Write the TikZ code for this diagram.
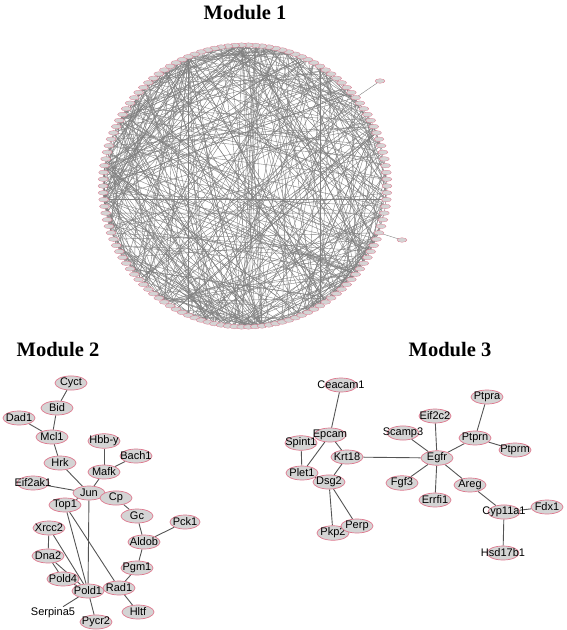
\documentclass[tikz,border=0pt]{standalone}
\usepackage{fontspec}
\setmainfont{Liberation Sans}
\newfontfamily\titlefont{Liberation Serif}
\usetikzlibrary{shapes.geometric,backgrounds}
\definecolor{pinkc}{RGB}{222,120,142}
\definecolor{grayc}{RGB}{212,212,212}
\definecolor{edgec}{RGB}{85,85,85}
\definecolor{medgec}{RGB}{128,128,128}
\newcommand{\gn}[1]{\makebox[0pt]{#1}}
\tikzset{
  gene/.style={ellipse, draw=pinkc, fill=grayc, line width=0.7pt, minimum width=32pt, minimum height=14pt, inner sep=0pt, font=\fontsize{11}{12}\selectfont},
  plain/.style={inner sep=1pt, font=\fontsize{11}{12}\selectfont},
  tiny/.style={ellipse, draw=pinkc, fill=grayc, line width=0.3pt, minimum width=10pt, minimum height=4.5pt, inner sep=0pt},
  link/.style={draw=edgec, line width=0.9pt},
  mlink/.style={draw=medgec, line width=0.4pt},
  modtitle/.style={font=\titlefont\bfseries\fontsize{20.5}{22}\selectfont}
}
\begin{document}
\begin{tikzpicture}[x=1pt,y=-1pt]
\useasboundingbox (0,0) rectangle (567,630);
% ---------- titles ----------
\node[modtitle] (t1) at (245,13) {Module 1};
\node[modtitle] (t2) at (58,350) {Module 2};
\node[modtitle] (t3) at (450,350) {Module 3};
% ---------- Module 1 ----------
\foreach \i in {0,...,129}{
  \pgfmathsetmacro{\ang}{2.7692308*\i}
  \coordinate (c\i) at ({245+142*cos(\ang)},{186-141*sin(\ang)});
}
\coordinate (o1) at (380,81);
\coordinate (o2) at (402,240);
\pgfmathsetseed{11}
\foreach \k in {1,...,320}{
  \pgfmathrandominteger{\ra}{0}{129}
  \pgfmathrandominteger{\rb}{0}{129}
  \draw[mlink] (c\ra) -- (c\rb);
}
\foreach \h in {67,55,41,33,9,116,100,62}{
  \foreach \k in {1,...,18}{
    \pgfmathrandominteger{\rb}{0}{129}
    \draw[mlink] (c\h) -- (c\rb);
  }
}
\draw[mlink] (c14) -- (o1);
\draw[mlink] (c123) -- (o2);
\foreach \i in {0,...,129}{
  \node[tiny] (m\i) at (c\i) {};
}
\node[tiny] (mo1) at (o1) {};
\node[tiny] (mo2) at (o2) {};
% ---------- Module 2 ----------
\node[gene] (cyct) at (71,383) {\gn{Cyct}};
\node[gene] (bid) at (57,408) {\gn{Bid}};
\node[gene] (dad1) at (19,418) {\gn{Dad1}};
\node[gene] (mcl1) at (52,437) {\gn{Mcl1}};
\node[gene] (hbby) at (104,441) {\gn{Hbb-y}};
\node[gene] (bach1) at (136,456) {\gn{Bach1}};
\node[gene] (hrk) at (60,463) {\gn{Hrk}};
\node[gene] (mafk) at (104,472) {\gn{Mafk}};
\node[gene] (eif2ak1) at (33,483) {\gn{Eif2ak1}};
\node[gene] (jun) at (89,493) {\gn{Jun}};
\node[gene] (cp) at (116,498) {\gn{Cp}};
\node[gene] (top1) at (65,505) {\gn{Top1}};
\node[gene] (gc) at (137,516) {\gn{Gc}};
\node[gene, minimum width=30pt] (pck1) at (185,522) {\gn{Pck1}};
\node[gene] (xrcc2) at (49,528) {\gn{Xrcc2}};
\node[gene] (aldob) at (144,542) {\gn{Aldob}};
\node[gene] (dna2) at (48,556) {\gn{Dna2}};
\node[gene] (pgm1) at (137,568) {\gn{Pgm1}};
\node[gene] (pold4) at (63,579) {\gn{Pold4}};
\node[gene] (rad1) at (119,588) {\gn{Rad1}};
\node[gene] (pold1) at (88,591) {\gn{Pold1}};
\node[gene] (hltf) at (138,612) {\gn{Hltf}};
\node[plain] (serpina5) at (53,613) {Serpina5};
\node[gene] (pycr2) at (96,622) {\gn{Pycr2}};
\begin{scope}[on background layer]
\draw[link] (cyct) -- (bid);
\draw[link] (bid) -- (mcl1);
\draw[link] (dad1) -- (mcl1);
\draw[link] (mcl1) -- (hrk);
\draw[link] (hrk) -- (jun);
\draw[link] (hbby) -- (mafk);
\draw[link] (bach1) -- (mafk);
\draw[link] (mafk) -- (jun);
\draw[link] (eif2ak1) -- (jun);
\draw[link] (jun) -- (cp);
\draw[link] (jun) -- (pold1);
\draw[link] (cp) -- (gc);
\draw[link] (gc) -- (aldob);
\draw[link] (pck1) -- (aldob);
\draw[link] (aldob) -- (pgm1);
\draw[link] (pgm1) -- (rad1);
\draw[link] (rad1) -- (hltf);
\draw[link] (rad1) -- (pold1);
\draw[link] (top1) -- (pold1);
\draw[link] (top1) -- (rad1);
\draw[link] (top1) -- (jun);
\draw[link] (xrcc2) -- (dna2);
\draw[link] (xrcc2) -- (pold1);
\draw[link] (dna2) -- (pold1);
\draw[link] (dna2) -- (pold4);
\draw[link] (pold4) -- (pold1);
\draw[link] (pold1) -- (serpina5);
\draw[link] (pold1) -- (pycr2);
\end{scope}
% ---------- Module 3 ----------
\node[gene] (ceacam1) at (341,385) {\gn{Ceacam1}};
\node[gene] (epcam) at (330,435) {\gn{Epcam}};
\node[gene] (spint1) at (301,443) {\gn{Spint1}};
\node[gene] (krt18) at (347,457) {\gn{Krt18}};
\node[gene] (plet1) at (302,473) {\gn{Plet1}};
\node[gene] (dsg2) at (329,482) {\gn{Dsg2}};
\node[gene] (scamp3) at (403,433) {\gn{Scamp3}};
\node[gene] (fgf3) at (402,483) {\gn{Fgf3}};
\node[gene] (eif2c2) at (435,416) {\gn{Eif2c2}};
\node[gene] (ptpra) at (487,397) {\gn{Ptpra}};
\node[gene] (ptprn) at (475,438) {\gn{Ptprn}};
\node[gene] (ptprm) at (515,450) {\gn{Ptprm}};
\node[gene] (egfr) at (437,458) {\gn{Egfr}};
\node[gene] (areg) at (470,485) {\gn{Areg}};
\node[gene] (errfi1) at (435,500) {\gn{Errfi1}};
\node[gene] (cyp11a1) at (504,512) {\gn{Cyp11a1}};
\node[gene] (fdx1) at (547,507) {\gn{Fdx1}};
\node[gene] (hsd17b1) at (503,553) {\gn{Hsd17b1}};
\node[gene] (pkp2) at (333,533) {\gn{Pkp2}};
\node[gene] (perp) at (357,526) {\gn{Perp}};
\begin{scope}[on background layer]
\draw[link] (ceacam1) -- (epcam);
\draw[link] (epcam) -- (plet1);
\draw[link] (epcam) -- (krt18);
\draw[link] (spint1) -- (plet1);
\draw[link] (krt18) -- (dsg2);
\draw[link] (krt18) -- (egfr);
\draw[link] (plet1) -- (dsg2);
\draw[link] (dsg2) -- (pkp2);
\draw[link] (dsg2) -- (perp);
\draw[link] (pkp2) -- (perp);
\draw[link] (scamp3) -- (egfr);
\draw[link] (eif2c2) -- (egfr);
\draw[link] (fgf3) -- (egfr);
\draw[link] (errfi1) -- (egfr);
\draw[link] (areg) -- (egfr);
\draw[link] (ptprn) -- (egfr);
\draw[link] (ptprn) -- (ptpra);
\draw[link] (ptprn) -- (ptprm);
\draw[link] (areg) -- (cyp11a1);
\draw[link] (cyp11a1) -- (fdx1);
\draw[link] (cyp11a1) -- (hsd17b1);
\end{scope}
\end{tikzpicture}
\end{document}
